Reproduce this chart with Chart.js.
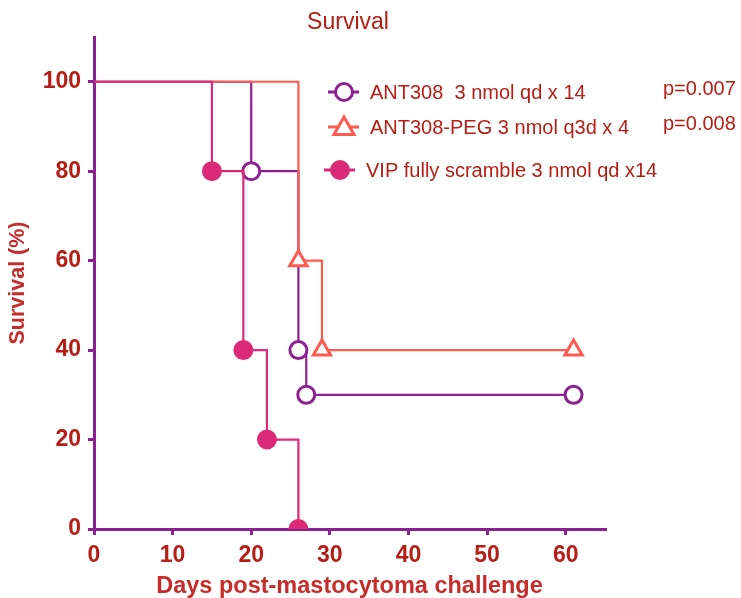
<!DOCTYPE html>
<html>
<head>
<meta charset="utf-8">
<script src="https://cdn.jsdelivr.net/npm/chart.js@4.4.1/dist/chart.umd.min.js"></script>
<style>
  html, body { margin: 0; padding: 0; background: #fff; }
  #wrap { width: 741px; height: 598px; position: relative; }
</style>
</head>
<body>
<div id="wrap"><canvas id="survivalChart" width="741" height="598"></canvas></div>
<script>
// Survival data (days, % surviving) - markers sit on each event / censor point
const ant308Days = [0, 20, 26, 27, 61];
const ant308Surv = [100, 80, 40, 30, 30];

const pegDays = [0, 26, 29, 61];
const pegSurv = [100, 60, 40, 40];

const vipDays = [0, 15, 19, 22, 26];
const vipSurv = [100, 80, 40, 20, 0];

const seriesNames = [
    'ANT308  3 nmol qd x 14',
    'ANT308-PEG 3 nmol q3d x 4',
    'VIP fully scramble 3 nmol qd x14'
];
const pValues = ['p=0.007', 'p=0.008', ''];

const xTicks = [0, 10, 20, 30, 40, 50, 60];
const yTicks = [0, 20, 40, 60, 80, 100];

const PURPLE = '#8e2191';
const CORAL = '#ff5a50';
const PINK = '#da2a78';
const TEXT_RED = '#b61d14';
const LABEL_RED = '#c52c2a';
const FONT = "'Liberation Sans', Arial, sans-serif";

function toPoints(xs, ys) {
    return xs.map((x, i) => ({ x: x, y: ys[i] }));
}
// no marker on the starting 100% point
function radii(xs, r) {
    return xs.map((x, i) => i === 0 ? 0 : r);
}

const styles = [
    { color: PURPLE, style: 'circle', fill: '#ffffff' },
    { color: CORAL, style: 'triangle', fill: '#ffffff' },
    { color: PINK, style: 'circle', fill: PINK }
];

// custom legend + title + p-values
const overlayPlugin = {
    id: 'overlay',
    afterDraw(chart) {
        const ctx = chart.ctx;
        ctx.save();
        // title
        ctx.fillStyle = TEXT_RED;
        ctx.font = '23px ' + FONT;
        ctx.textAlign = 'center';
        ctx.textBaseline = 'middle';
        ctx.fillText('Survival', 348, 23);

        const rows = [92, 127, 170];
        rows.forEach((y, i) => {
            const s = styles[i];
            const cx = i === 2 ? 340 : 344;
            ctx.strokeStyle = s.color;
            ctx.lineWidth = 3;
            ctx.beginPath();
            ctx.moveTo(cx - 16, y);
            ctx.lineTo(cx + 15, y);
            ctx.stroke();
            ctx.fillStyle = s.fill;
            ctx.beginPath();
            if (s.style === 'circle') {
                ctx.arc(cx, y, 8.5, 0, Math.PI * 2);
            } else {
                ctx.moveTo(cx, y - 10);
                ctx.lineTo(cx + 10, y + 7.5);
                ctx.lineTo(cx - 10, y + 7.5);
                ctx.closePath();
            }
            ctx.fill();
            ctx.stroke();

            ctx.fillStyle = TEXT_RED;
            ctx.font = '20px ' + FONT;
            ctx.textAlign = 'left';
            ctx.fillText(seriesNames[i], i === 2 ? 366 : 370, y + 1);
            if (pValues[i]) {
                ctx.fillText(pValues[i], 663, y - 3);
            }
        });
        ctx.restore();
    }
};

function makeDataset(xs, ys, idx) {
    const s = styles[idx];
    return {
        label: seriesNames[idx],
        data: toPoints(xs, ys),
        stepped: 'before',
        borderColor: s.color,
        borderWidth: 2.2,
        pointStyle: s.style,
        pointRadius: radii(xs, s.style === 'triangle' ? 10 : 8.5),
        pointHoverRadius: radii(xs, 9),
        pointBackgroundColor: s.fill,
        pointBorderColor: s.color,
        pointBorderWidth: 3,
        fill: false
    };
}

const ctx = document.getElementById('survivalChart').getContext('2d');
new Chart(ctx, {
    type: 'line',
    data: {
        datasets: [
            makeDataset(vipDays, vipSurv, 2),
            makeDataset(pegDays, pegSurv, 1),
            makeDataset(ant308Days, ant308Surv, 0)
        ]
    },
    options: {
        responsive: false,
        animation: false,
        layout: { padding: { left: 0, top: 37, right: 136, bottom: 0 } },
        plugins: {
            legend: { display: false },
            tooltip: { enabled: false },
            title: { display: false }
        },
        scales: {
            x: {
                type: 'linear',
                min: 0,
                max: 65,
                afterFit(scale) { scale.height = 69; },
                afterBuildTicks(scale) { scale.ticks = xTicks.map(v => ({ value: v })); },
                grid: { drawOnChartArea: false, drawTicks: true, tickLength: 6, color: PURPLE, lineWidth: 3 },
                border: { color: PURPLE, width: 3 },
                ticks: {
                    color: TEXT_RED,
                    padding: 7,
                    font: { family: FONT, size: 23, weight: 'bold' }
                },
                title: {
                    display: true,
                    text: 'Days post-mastocytoma challenge',
                    color: LABEL_RED,
                    padding: { top: 0, bottom: 0 },
                    font: { family: FONT, size: 23.5, weight: 'bold', lineHeight: 1.0 }
                }
            },
            y: {
                min: 0,
                max: 110,
                afterFit(scale) { scale.width = 94; },
                afterBuildTicks(scale) { scale.ticks = yTicks.map(v => ({ value: v })); },
                grid: { drawOnChartArea: false, drawTicks: true, tickLength: 6, color: PURPLE, lineWidth: 3 },
                border: { color: PURPLE, width: 3 },
                ticks: {
                    color: TEXT_RED,
                    padding: 7,
                    font: { family: FONT, size: 23, weight: 'bold' }
                },
                title: {
                    display: true,
                    text: 'Survival (%)',
                    color: LABEL_RED,
                    padding: { top: 5, bottom: 0 },
                    font: { family: FONT, size: 21.5, weight: 'bold' }
                }
            }
        }
    },
    plugins: [overlayPlugin]
});
</script>
</body>
</html>
